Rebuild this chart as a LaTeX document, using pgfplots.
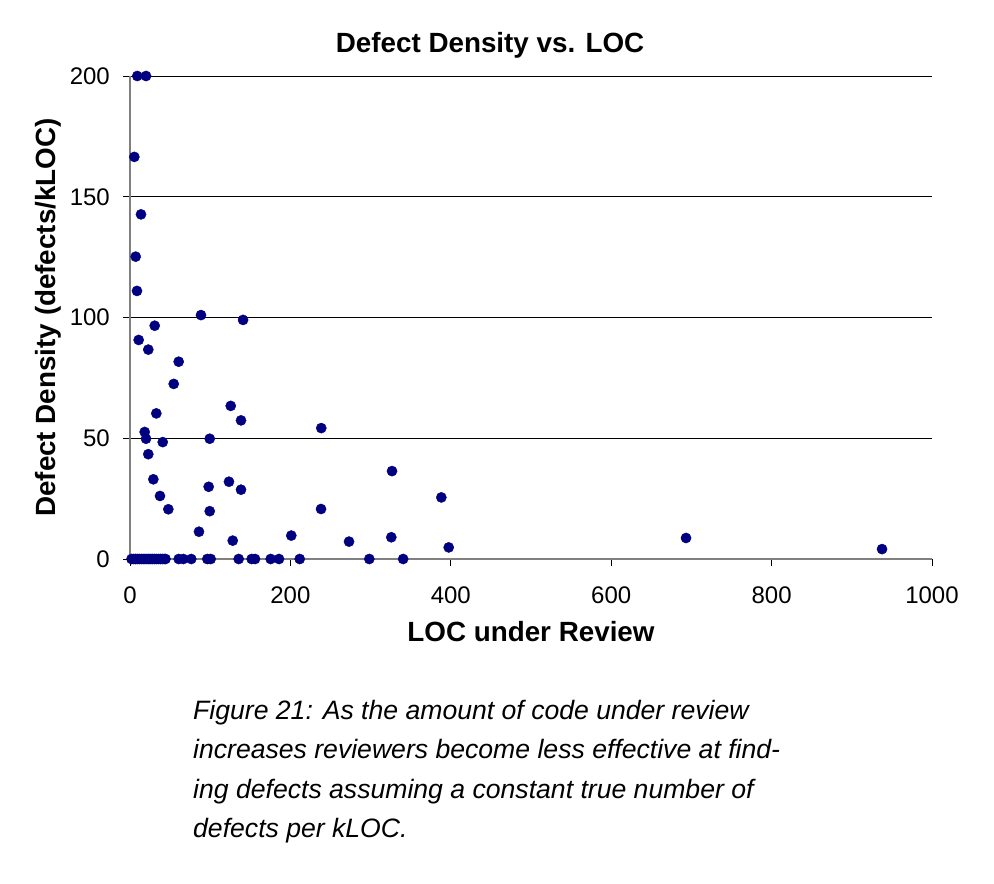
\documentclass[border=0pt]{standalone}
\usepackage{pgfplots}
\pgfplotsset{compat=1.18}
\usepackage{fontspec}
\setmainfont{Liberation Sans}
\definecolor{dotblue}{RGB}{0,0,128}
\definecolor{axisgray}{RGB}{128,128,128}

\begin{document}
\begin{tikzpicture}
\path[use as bounding box] (0pt,0pt) rectangle (994pt,884pt);
\begin{axis}[
  at={(130pt,325pt)}, anchor=south west,
  scale only axis, width=802pt, height=483pt,
  xmin=0, xmax=1000, ymin=0, ymax=200,
  xtick={0,200,...,1000}, ytick={0,50,...,200},
  axis x line=bottom, axis y line=left,
  axis line style={axisgray, line width=1.6pt, -},
  tick align=outside, major tick length=7pt,
  tick style={black, line width=0.8pt},
  ymajorgrids, grid style={black, line width=0.9pt},
  /pgf/number format/assume math mode=true,
  /pgf/number format/1000 sep={},
  ticklabel style={font=\fontsize{24}{24}\selectfont},
  xticklabel style={anchor=north, inner sep=0pt, yshift=-21pt},
  yticklabel style={anchor=east, inner sep=0pt, xshift=-13pt},
  title={Defect Density vs. LOC},
  title style={font=\fontsize{27.8}{28}\selectfont\bfseries,
    at={(axis description cs:0.449,1.037)}, anchor=base},
  xlabel={LOC under Review},
  xlabel style={font=\fontsize{27.8}{28}\selectfont\bfseries,
    at={(axis description cs:0.5,-0.1698)}, anchor=base},
  ylabel={Defect Density (defects/kLOC)},
  ylabel style={font=\fontsize{27.8}{28}\selectfont\bfseries,
    at={(axis description cs:-0.0935,0.5)}, anchor=base},
  clip=false,
]
\addplot[only marks, mark=*, mark size=5.1pt, dotblue,
  mark options={draw=dotblue, fill=dotblue}] coordinates {
  % reviews that found no defects
  (1.9,0) (4.3,0) (6.7,0) (9.1,0) (11.5,0) (13.9,0) (16.3,0) (18.7,0)
  (21.1,0) (23.5,0) (25.9,0) (28.3,0) (30.7,0) (33.1,0) (35.5,0)
  (37.9,0) (40.3,0) (42.7,0) (44.3,0)
  (60.7,0) (66.5,0) (76.4,0) (96.4,0) (100.6,0) (135.5,0) (151.7,0)
  (155.9,0) (175.4,0) (185.8,0) (211.6,0) (298.4,0) (340.6,0)
  % reviews with defects found
  (9.1,200) (20,200) (5.4,166.5) (13.7,142.7) (7.1,125.2) (8.7,111)
  (10.8,90.7) (30.8,96.6) (22.8,86.7) (88.5,101.0) (141,99.0)
  (60.7,81.7) (54.5,72.5) (125.6,63.4) (138.4,57.4) (32.8,60.3)
  (18.3,52.6) (20,49.8) (40.8,48.4) (99.4,49.8) (22.8,43.4)
  (238.5,54.2) (29.1,33.0) (123.4,32.0) (138.4,28.7) (98.1,29.9)
  (37.4,26.1) (47.8,20.6) (99.4,19.8) (86.0,11.3) (128.1,7.6)
  (326.7,36.4) (388.2,25.5) (238.2,20.7) (201.1,9.7) (273.1,7.2)
  (325.8,9.0) (397.4,4.8) (693.3,8.7) (937.7,4.1)
};
\end{axis}
% figure caption
\begin{scope}[every node/.style={anchor=base west, inner sep=0pt,
    font=\fontsize{26.6}{26.6}\selectfont\itshape}]
\node at (193pt,164pt) {Figure 21: As the amount of code under review};
\node at (193pt,125pt) {increases reviewers become less effective at find-};
\node at (193pt,85pt)  {ing defects assuming a constant true number of};
\node at (193pt,46pt)  {defects per kLOC.};
\end{scope}
\end{tikzpicture}
\end{document}
